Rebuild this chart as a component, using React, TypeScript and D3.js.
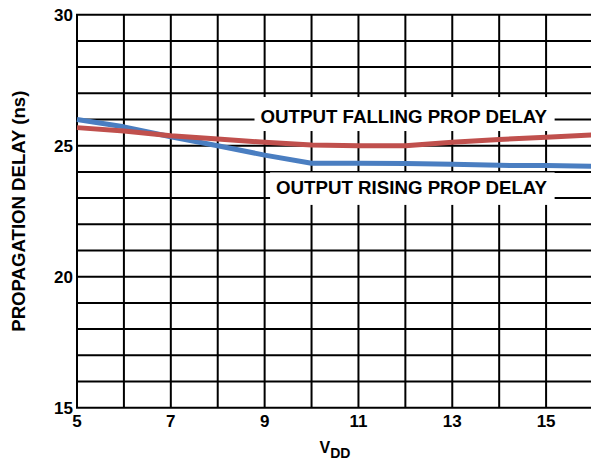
import React, { useEffect, useRef } from "react";
import * as d3 from "d3";

const vdd = [5, 6, 7, 8, 9, 10, 11, 12, 13, 14, 15, 16];
const fallingDelay = [25.69, 25.56, 25.38, 25.26, 25.13, 25.03, 25.0, 25.0, 25.13, 25.24, 25.32, 25.41];
const risingDelay = [26.0, 25.72, 25.34, 25.0, 24.64, 24.33, 24.33, 24.32, 24.29, 24.25, 24.24, 24.21];
const xTickLabels = [5, 7, 9, 11, 13, 15];
const yTickLabels = [15, 20, 25, 30];
const seriesLabels = [
  { text: "OUTPUT FALLING PROP DELAY", x: 15, y: 25.86, boxTop: 26.86, boxBottom: 25.56 },
  { text: "OUTPUT RISING PROP DELAY", x: 15, y: 23.16, boxTop: 23.98, boxBottom: 22.74 },
];

const W = 591;
const H = 461;
const FONT = "'Liberation Sans', Arial, Helvetica, sans-serif";

export default function App() {
  const ref = useRef<SVGSVGElement | null>(null);

  useEffect(() => {
    const svg = d3.select(ref.current);
    svg.selectAll("*").remove();

    const x = d3.scaleLinear().domain([5, 16]).range([77, 593]);
    const y = d3.scaleLinear().domain([15, 30]).range([407.7, 14.7]);

    const g = svg.append("g");

    // grid
    const xs = d3.range(5, 17, 1);
    const ys = d3.range(15, 31, 1);
    g.selectAll("line.v")
      .data(xs)
      .join("line")
      .attr("x1", (d) => x(d))
      .attr("x2", (d) => x(d))
      .attr("y1", y(30))
      .attr("y2", y(15))
      .attr("stroke", "#000")
      .attr("stroke-width", 2);
    g.selectAll("line.h")
      .data(ys)
      .join("line")
      .attr("x1", x(5) - 1)
      .attr("x2", x(16))
      .attr("y1", (d) => y(d))
      .attr("y2", (d) => y(d))
      .attr("stroke", "#000")
      .attr("stroke-width", 2);

    // series labels with white boxes
    seriesLabels.forEach((lab) => {
      const lg = g.append("g");
      const rect = lg.append("rect").attr("fill", "#fff");
      const t = lg
        .append("text")
        .attr("x", x(lab.x) + 1)
        .attr("y", y(lab.y))
        .attr("text-anchor", "end")
        .attr("font-family", FONT)
        .attr("font-weight", "bold")
        .attr("font-size", 18.7)
        .attr("fill", "#000")
        .text(lab.text);
      const bb = (t.node() as SVGTextElement).getBBox();
      rect
        .attr("x", bb.x - 6)
        .attr("width", bb.width + 13)
        .attr("y", y(lab.boxTop))
        .attr("height", y(lab.boxBottom) - y(lab.boxTop));
    });

    // data lines
    const line = d3
      .line<number>()
      .x((_, i) => x(vdd[i]))
      .y((d) => y(d));
    g.append("path")
      .attr("d", line(risingDelay) as string)
      .attr("fill", "none")
      .attr("stroke", "#4a7ec1")
      .attr("stroke-width", 5)
      .attr("stroke-linejoin", "round");
    g.append("path")
      .attr("d", line(fallingDelay) as string)
      .attr("fill", "none")
      .attr("stroke", "#c0504d")
      .attr("stroke-width", 5)
      .attr("stroke-linejoin", "round");

    // y tick labels
    g.selectAll("text.yt")
      .data(yTickLabels)
      .join("text")
      .attr("x", 73)
      .attr("y", (d) => y(d) + 6)
      .attr("text-anchor", "end")
      .attr("font-family", FONT)
      .attr("font-weight", "bold")
      .attr("font-size", 17)
      .text((d) => String(d));

    // x tick labels
    g.selectAll("text.xt")
      .data(xTickLabels)
      .join("text")
      .attr("x", (d) => x(d))
      .attr("y", 427)
      .attr("text-anchor", "middle")
      .attr("font-family", FONT)
      .attr("font-weight", "bold")
      .attr("font-size", 17)
      .text((d) => String(d));

    // y title
    g.append("text")
      .attr("transform", `translate(25,${(y(15) + y(30)) / 2}) rotate(-90)`)
      .attr("text-anchor", "middle")
      .attr("font-family", FONT)
      .attr("font-weight", "bold")
      .attr("font-size", 18.6)
      .text("PROPAGATION DELAY (ns)");

    // x title
    const xt = g
      .append("text")
      .attr("x", 335)
      .attr("y", 452.5)
      .attr("text-anchor", "middle")
      .attr("font-family", FONT)
      .attr("font-weight", "bold")
      .attr("font-size", 16);
    xt.append("tspan").text("V");
    xt.append("tspan").attr("font-size", 14).attr("dy", 5.5).text("DD");
  }, []);

  return (
    <svg
      ref={ref}
      width={W}
      height={H}
      style={{ position: "absolute", left: 0, top: 0, background: "#fff" }}
    />
  );
}
